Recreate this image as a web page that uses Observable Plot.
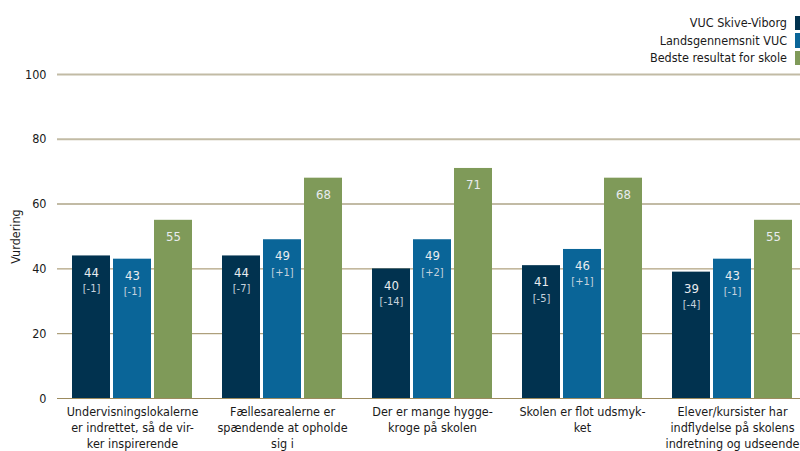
<!DOCTYPE html>
<html>
<head>
<meta charset="utf-8">
<script src="https://cdn.jsdelivr.net/npm/d3@7"></script>
<script src="https://cdn.jsdelivr.net/npm/@observablehq/plot@0.6"></script>
<style>
  body { margin: 0; background: #fff; }
  #wrap { width: 800px; height: 451px; overflow: hidden; position: relative;
          font-family: "DejaVu Sans Condensed", "DejaVu Sans", sans-serif; font-stretch: condensed; color: #1a1a1a; }
  #legend { width: 809px; height: 60px; box-sizing: border-box; padding-top: 14px; }
  .row { display: flex; justify-content: flex-end; align-items: center; height: 17.5px; font-size: 12.5px; }
  .sw { width: 14px; height: 14.5px; margin-left: 8px; }
  svg { display: block; }
</style>
</head>
<body>
<div id="wrap">
  <div id="legend"></div>
  <div id="chart"></div>
</div>
<script>
const categories = [
  "Undervisningslokalerne er indrettet, så de virker inspirerende",
  "Fællesarealerne er spændende at opholde sig i",
  "Der er mange hyggekroge på skolen",
  "Skolen er flot udsmykket",
  "Elever/kursister har indflydelse på skolens indretning og udseende"
];
const categoryLines = [
  "Undervisningslokalerne\ner indrettet, så de vir-\nker inspirerende",
  "Fællesarealerne er\nspændende at opholde\nsig i",
  "Der er mange hygge-\nkroge på skolen",
  "Skolen er flot udsmyk-\nket",
  "Elever/kursister har\nindflydelse på skolens\nindretning og udseende"
];
const series = ["VUC Skive-Viborg", "Landsgennemsnit VUC", "Bedste resultat for skole"];
const skiveViborg = [44, 44, 40, 41, 39];
const landsgennemsnit = [43, 49, 49, 46, 43];
const bedsteResultat = [55, 68, 71, 68, 55];
const skiveViborgDiff = ["[-1]", "[-7]", "[-14]", "[-5]", "[-4]"];
const landsgennemsnitDiff = ["[-1]", "[+1]", "[+2]", "[+1]", "[-1]"];
const yTicks = [0, 20, 40, 60, 80, 100];
const colors = ["#01324f", "#0a6598", "#7f9a59"];

const rows = [];
categories.forEach((c, i) => {
  rows.push({cat: c, series: series[0], value: skiveViborg[i], diff: skiveViborgDiff[i]});
  rows.push({cat: c, series: series[1], value: landsgennemsnit[i], diff: landsgennemsnitDiff[i]});
  rows.push({cat: c, series: series[2], value: bedsteResultat[i], diff: null});
});
const catLabels = categories.map((c, i) => ({cat: c, label: categoryLines[i]}));

// legend
const legend = document.getElementById("legend");
series.forEach((s, i) => {
  const r = document.createElement("div");
  r.className = "row";
  r.innerHTML = `<span>${s}</span><span class="sw" style="background:${colors[i]}"></span>`;
  legend.appendChild(r);
});

const font = '"DejaVu Sans Condensed", "DejaVu Sans", sans-serif';
const chart = Plot.plot({
  width: 800,
  height: 391,
  marginTop: 14,
  marginBottom: 53,
  marginLeft: 57,
  marginRight: -7,
  style: {fontFamily: font, fontSize: "12.5px", color: "#1a1a1a", background: "#fff", overflow: "visible"},
  fx: {domain: categories, padding: 0, axis: null},
  x: {domain: series, paddingInner: 0.084, paddingOuter: 0.349, axis: null},
  y: {domain: [0, 100], ticks: yTicks, tickSize: 0, tickPadding: 11, label: "Vurdering", labelArrow: false, labelAnchor: "center", labelOffset: 46},
  color: {domain: series, range: colors},
  marks: [
    Plot.ruleY(yTicks, {
      stroke: d => d >= 60 ? "#c2bba5" : "#9c8b5e",
      strokeWidth: d => d >= 60 ? 2 : 1
    }),
    Plot.barY(rows, {fx: "cat", x: "series", y: "value", fill: "series"}),
    Plot.text(rows, {fx: "cat", x: "series", y: "value", text: d => String(d.value), dy: 16.5, fill: "#e9ecef", fontSize: 13}),
    Plot.text(rows.filter(d => d.diff), {fx: "cat", x: "series", y: "value", text: "diff", dy: 32.5, fill: "#c6d2dd", fontSize: 11}),
    Plot.text(catLabels, {fx: "cat", text: "label", frameAnchor: "bottom", lineAnchor: "top", dy: 6, lineHeight: 1.28, fontSize: 12.5, fill: "#1a1a1a"})
  ]
});
document.getElementById("chart").appendChild(chart);
</script>
</body>
</html>
